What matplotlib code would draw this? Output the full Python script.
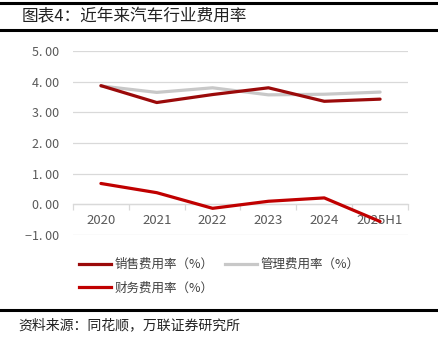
import matplotlib
matplotlib.use("Agg")
import matplotlib.pyplot as plt
from matplotlib.lines import Line2D

plt.rcParams['font.family'] = ['Noto Sans CJK SC', 'DejaVu Sans']

# data
years = ["2020", "2021", "2022", "2023", "2024", "2025H1"]
sales_rate = [3.87, 3.32, 3.58, 3.80, 3.36, 3.43]
admin_rate = [3.86, 3.65, 3.80, 3.57, 3.59, 3.66]
finance_rate = [0.68, 0.38, -0.13, 0.10, 0.21, -0.56]
y_ticks = [-1, 0, 1, 2, 3, 4, 5]

title = "图表4：近年来汽车行业费用率"
source = "资料来源：同花顺，万联证券研究所"
labels = ["销售费用率（%）", "管理费用率（%）", "财务费用率（%）"]

c_sales = "#9b0a0a"
c_admin = "#c8c8c8"
c_fin = "#c00000"

fig = plt.figure(figsize=(4.39, 3.38), dpi=100)

# header / footer rules
for y in [1 - 3 / 338, 1 - 30 / 338, 1 - 310 / 338]:
    fig.add_artist(Line2D([0, 1], [y, y], color="black", lw=2.2,
                          transform=fig.transFigure))
fig.text(22 / 439, 1 - 17 / 338, title, fontsize=12, color="#222222",
         va="center", ha="left")
fig.text(18 / 439, 1 - 325 / 338, source, fontsize=10, color="#222222",
         va="center", ha="left")

ax = fig.add_axes([73 / 439, 1 - 235 / 338, (408 - 73) / 439, (235 - 51) / 338])
x = list(range(len(years)))

ax.plot(x, admin_rate, color=c_admin, lw=2.3, solid_capstyle="round", zorder=3)
ax.plot(x, sales_rate, color=c_sales, lw=2.3, solid_capstyle="round", zorder=4)
ax.plot(x, finance_rate, color=c_fin, lw=2.3, solid_capstyle="round", zorder=4)

ax.set_xlim(-0.5, len(years) - 0.5)
ax.set_ylim(-1, 5)
ax.set_yticks(y_ticks)
ax.set_yticklabels(["{:.2f}".format(v).replace(".", ". ").replace("-", "−")
                    for v in y_ticks])
ax.yaxis.grid(True, color="#d9d9d9", lw=0.9)
ax.set_axisbelow(True)
ax.tick_params(axis="y", length=0, labelsize=9, labelcolor="#595959", pad=10)

for s in ["top", "right", "left"]:
    ax.spines[s].set_visible(False)
ax.spines["bottom"].set_position(("data", 0))
ax.spines["bottom"].set_color("#d9d9d9")
ax.spines["bottom"].set_linewidth(0.9)

ax.set_xticks(x)
ax.set_xticklabels(years)
ax.set_xticks([i - 0.5 for i in range(len(years) + 1)], minor=True)
ax.tick_params(axis="x", which="major", length=0, labelsize=9.5,
               labelcolor="#595959", pad=7)
ax.tick_params(axis="x", which="minor", length=4, color="#d9d9d9", width=0.9)

handles = [Line2D([], [], color=c_sales, lw=2.3),
           Line2D([], [], color=c_fin, lw=2.3),
           Line2D([], [], color=c_admin, lw=2.3)]
fig.legend(handles, [labels[0], labels[2], labels[1]], ncol=2,
           loc="upper left", bbox_to_anchor=(74 / 439, 1 - 253 / 338),
           frameon=False, fontsize=9, labelcolor="#404040",
           handlelength=2.6, handletextpad=0.25, columnspacing=0.9,
           labelspacing=0.85, borderaxespad=0)

fig.savefig("out.png", dpi=100)
